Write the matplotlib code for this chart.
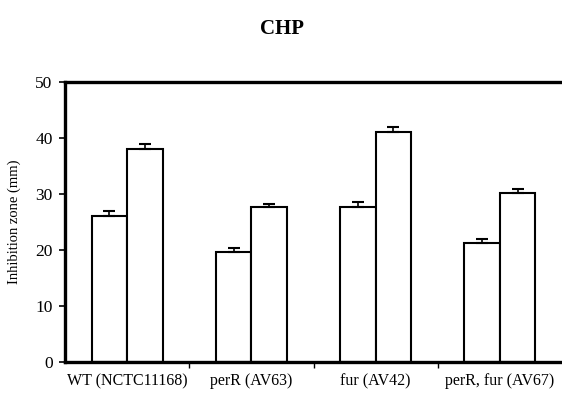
import matplotlib.pyplot as plt
import numpy as np

strains = ['WT (NCTC11168)', 'perR (AV63)', 'fur (AV42)', 'perR, fur (AV67)']
first_vals = [26.0, 19.7, 27.6, 21.2]
first_err = [0.9, 0.6, 1.0, 0.7]
second_vals = [38.0, 27.7, 41.0, 30.2]
second_err = [1.0, 0.6, 0.9, 0.7]

plt.rcParams['font.family'] = ['Liberation Serif', 'DejaVu Serif']

fig = plt.figure(figsize=(5.62, 3.93), dpi=100)
ax = fig.add_axes([0.1157, 0.0789, 0.8843, 0.7125])

x = np.arange(len(strains))
w = 0.285
err_kw = dict(elinewidth=1.2, capsize=4, capthick=1.5, ecolor='black')
ax.bar(x - w / 2, first_vals, w, color='white', edgecolor='black', linewidth=1.5,
       yerr=[np.zeros(4), first_err], error_kw=err_kw)
ax.bar(x + w / 2, second_vals, w, color='white', edgecolor='black', linewidth=1.5,
       yerr=[np.zeros(4), second_err], error_kw=err_kw)

ax.set_xlim(-0.5, 3.5)
ax.set_ylim(0, 50)
ax.set_yticks([0, 10, 20, 30, 40, 50])
ax.set_xticks(x)
ax.set_xticklabels(strains, fontsize=11.5)
ax.set_xticks([0.5, 1.5, 2.5], minor=True)
ax.tick_params(axis='x', which='major', length=0, pad=8)
ax.tick_params(axis='x', which='minor', length=4, width=1)
ax.tick_params(axis='y', labelsize=12.5, length=4, width=1.2, direction='out', pad=5)
ax.set_ylabel('Inhibition zone (mm)', fontsize=10.5, labelpad=10)

for s in ['left', 'bottom', 'top']:
    ax.spines[s].set_linewidth(2.4)
ax.spines['right'].set_visible(False)

fig.text(0.5015, 0.925, 'CHP', ha='center', va='center', fontsize=15, fontweight='bold')

fig.savefig('out.png', dpi=100)
